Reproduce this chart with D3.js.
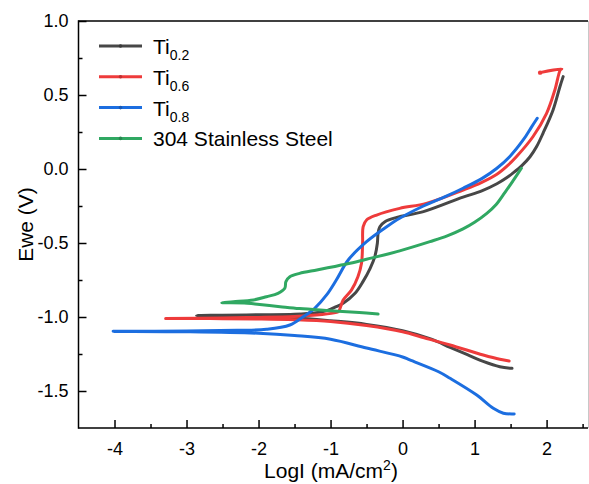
<!DOCTYPE html>
<html>
<head>
<meta charset="utf-8">
<script src="https://cdn.jsdelivr.net/npm/d3@7"></script>
<style>
  html, body { margin: 0; padding: 0; background: #fff; }
  svg { display: block; font-family: Arial, "Liberation Sans", Helvetica, sans-serif; }
</style>
</head>
<body>
<svg id="chart" width="589" height="484"></svg>
<script>
// Potentiodynamic polarization curves: [log I (mA/cm²), Ewe (V)]
// Each curve runs cathodic end -> corrosion potential -> anodic end.
const seriesNames = ["Ti0.2", "Ti0.6", "Ti0.8", "304 Stainless Steel"];

const ti02 = [
  [1.52,-1.347],[1.35,-1.336],[1.12,-1.300],[0.90,-1.255],[0.66,-1.205],[0.40,-1.150],
  [0.00,-1.093],[-0.50,-1.050],[-1.00,-1.025],[-1.50,-1.005],[-2.00,-0.997],[-2.50,-0.992],
  [-2.86,-0.990],
  [-2.50,-0.988],[-2.00,-0.985],[-1.50,-0.982],[-1.20,-0.972],[-1.05,-0.957],[-0.92,-0.930],
  [-0.825,-0.907],[-0.66,-0.840],[-0.55,-0.761],[-0.45,-0.671],[-0.385,-0.592],[-0.35,-0.502],
  [-0.34,-0.434],[-0.315,-0.390],[-0.245,-0.356],[-0.08,-0.327],[0.29,-0.288],[0.84,-0.190],
  [1.10,-0.148],[1.31,-0.100],[1.45,-0.058],[1.54,-0.025],[1.66,0.025],[1.77,0.083],
  [1.86,0.150],[1.95,0.241],[2.09,0.399],[2.185,0.556],[2.23,0.624]
];

const ti06 = [
  [1.48,-1.297],[1.35,-1.286],[1.12,-1.257],[0.66,-1.189],[0.30,-1.140],[0.00,-1.100],
  [-0.50,-1.058],[-1.00,-1.030],[-1.50,-1.018],[-2.00,-1.013],[-2.50,-1.011],[-3.00,-1.010],
  [-3.29,-1.010],
  [-2.50,-1.006],[-2.00,-1.003],[-1.50,-0.997],[-1.20,-0.987],[-0.95,-0.972],[-0.89,-0.964],
  [-0.86,-0.930],[-0.825,-0.885],[-0.71,-0.818],[-0.62,-0.728],[-0.57,-0.637],[-0.555,-0.502],
  [-0.547,-0.390],[-0.50,-0.345],[-0.36,-0.311],[-0.04,-0.266],[0.33,-0.232],[0.84,-0.142],
  [1.10,-0.090],[1.31,-0.035],[1.45,0.020],[1.58,0.083],[1.81,0.218],[2.00,0.376],
  [2.115,0.534],[2.19,0.669],[2.21,0.676],[1.91,0.651]
];

const ti08 = [
  [1.55,-1.655],[1.40,-1.650],[1.26,-1.617],[1.03,-1.527],[0.66,-1.414],[0.50,-1.370],
  [0.10,-1.290],[0.00,-1.270],[-0.50,-1.210],[-1.00,-1.150],[-1.50,-1.125],[-2.00,-1.110],
  [-3.00,-1.100],[-4.02,-1.097],
  [-3.00,-1.095],[-2.30,-1.090],[-1.89,-1.083],[-1.565,-1.054],[-1.38,-0.998],[-1.22,-0.941],
  [-1.055,-0.851],[-0.92,-0.750],[-0.755,-0.615],[-0.50,-0.491],[-0.22,-0.390],[-0.04,-0.333],
  [0.29,-0.250],[0.60,-0.185],[0.84,-0.130],[1.10,-0.065],[1.31,0.005],[1.49,0.085],
  [1.675,0.196],[1.79,0.283],[1.87,0.343]
];

const ss304 = [
  [-0.34,-0.980],[-0.60,-0.970],[-1.00,-0.957],[-1.43,-0.943],[-1.70,-0.930],[-2.05,-0.912],
  [-2.20,-0.905],[-2.51,-0.903],
  [-2.35,-0.897],[-2.07,-0.885],[-1.89,-0.863],[-1.73,-0.840],[-1.635,-0.806],[-1.62,-0.761],
  [-1.565,-0.728],[-1.43,-0.705],[-1.19,-0.682],[-0.96,-0.660],[-0.73,-0.637],[-0.50,-0.610],
  [-0.04,-0.553],[0.38,-0.491],[0.62,-0.452],[0.84,-0.405],[1.00,-0.360],[1.17,-0.300],
  [1.30,-0.240],[1.42,-0.160],[1.54,-0.075],[1.65,0.005]
];

const seriesData = [ti02, ti06, ti08, ss304];
const seriesColors = ["#474747", "#ee3b3b", "#1c6ee0", "#30a862"];

const xTicks = [-4, -3, -2, -1, 0, 1, 2];
const yTicks = [-1.5, -1.0, -0.5, 0.0, 0.5, 1.0];

const svg = d3.select("#chart");
const plotL = 78.5, plotR = 588, plotT = 21, plotB = 428;

const x = d3.scaleLinear().domain([-4.5, 2.575]).range([plotL, plotR]);
const y = d3.scaleLinear().domain([-1.75, 1.0]).range([plotB, plotT]);

// plain hyphen-minus for negative tick labels
const fmt = d3.formatLocale({ decimal: ".", thousands: ",", grouping: [3], currency: ["", ""], minus: "-" });

svg.append("defs").append("clipPath").attr("id", "plotclip")
  .append("rect").attr("x", plotL).attr("y", plotT)
  .attr("width", plotR - plotL).attr("height", plotB - plotT);

// Curves
const line = d3.line()
  .x(d => x(d[0])).y(d => y(d[1]))
  .curve(d3.curveCatmullRom.alpha(0.5));

const curves = svg.append("g").attr("clip-path", "url(#plotclip)");
seriesData.forEach((data, i) => {
  curves.append("path")
    .datum(data)
    .attr("d", line)
    .attr("fill", "none")
    .attr("stroke", seriesColors[i])
    .attr("stroke-width", 3)
    .attr("stroke-linejoin", "round")
    .attr("stroke-linecap", "round");
});
// end marker on the hook of the Ti0.6 curve
curves.append("circle")
  .attr("cx", x(ti06[ti06.length - 1][0])).attr("cy", y(ti06[ti06.length - 1][1]))
  .attr("r", 2.2).attr("fill", seriesColors[1]);

// Axes (ticks point into the plot)
const xAxis = d3.axisBottom(x).tickValues(xTicks).tickFormat(fmt.format("d"))
  .tickSizeInner(-8).tickSizeOuter(0).tickPadding(14);
const xMinor = d3.axisBottom(x).tickValues(d3.range(-3.5, 2.6, 1))
  .tickSizeInner(-4).tickSizeOuter(0).tickFormat("");
const yAxis = d3.axisLeft(y).tickValues(yTicks).tickFormat(fmt.format(".1f"))
  .tickSizeInner(-8).tickSizeOuter(0).tickPadding(10);
const yMinor = d3.axisLeft(y).tickValues([-1.25, -0.75, -0.25, 0.25, 0.75])
  .tickSizeInner(-4).tickSizeOuter(0).tickFormat("");

function styleAxis(g) {
  g.select(".domain").remove();
  g.selectAll(".tick line").attr("stroke", "#000").attr("stroke-width", 1.5);
  g.selectAll(".tick text").attr("fill", "#000").style("font-size", "18px")
    .style("font-family", "Arial, 'Liberation Sans', sans-serif");
}

svg.append("g").attr("transform", `translate(0,${plotB})`).call(xAxis).call(styleAxis);
svg.append("g").attr("transform", `translate(0,${plotB})`).call(xMinor).call(styleAxis);
svg.append("g").attr("transform", `translate(${plotL},0)`).call(yAxis).call(styleAxis);
svg.append("g").attr("transform", `translate(${plotL},0)`).call(yMinor).call(styleAxis);

// Frame
svg.append("line").attr("x1", plotL).attr("x2", plotL).attr("y1", plotT - 0.75).attr("y2", plotB + 0.75)
  .attr("stroke", "#000").attr("stroke-width", 1.5);
svg.append("line").attr("x1", plotL).attr("x2", plotR).attr("y1", plotB).attr("y2", plotB)
  .attr("stroke", "#000").attr("stroke-width", 1.5);
svg.append("line").attr("x1", plotL).attr("x2", plotR).attr("y1", plotT).attr("y2", plotT)
  .attr("stroke", "#000").attr("stroke-width", 1.5);
svg.append("line").attr("x1", plotR + 0.5).attr("x2", plotR + 0.5).attr("y1", plotT).attr("y2", plotB)
  .attr("stroke", "#c8c8c8").attr("stroke-width", 1);

// Axis titles
svg.append("text")
  .attr("transform", `translate(33,${(plotT + plotB) / 2}) rotate(-90)`)
  .attr("text-anchor", "middle")
  .style("font-size", "21px")
  .text("Ewe (V)");

const xt = svg.append("text")
  .attr("x", 331).attr("y", 478)
  .attr("text-anchor", "middle")
  .style("font-size", "21px");
xt.append("tspan").text("LogI (mA/cm");
xt.append("tspan").attr("dy", -8).style("font-size", "14px").text("2");
xt.append("tspan").attr("dy", 8).text(")");

// Legend
const legendLabels = [
  { main: "Ti", sub: "0.2" },
  { main: "Ti", sub: "0.6" },
  { main: "Ti", sub: "0.8" },
  { main: "304 Stainless Steel", sub: null }
];
const legend = svg.append("g");
legendLabels.forEach((lab, i) => {
  const ly = 46 + i * 30.8;
  legend.append("line").attr("x1", 99).attr("x2", 142).attr("y1", ly).attr("y2", ly)
    .attr("stroke", seriesColors[i]).attr("stroke-width", 3);
  legend.append("circle").attr("cx", 120.5).attr("cy", ly).attr("r", 1.8)
    .attr("fill", d3.color(seriesColors[i]).darker(0.6));
  const t = legend.append("text").attr("x", 153).attr("y", ly + 8)
    .style("font-size", "21px").text(lab.main);
  if (lab.sub) {
    t.append("tspan").attr("dy", 6).style("font-size", "14px").text(lab.sub);
  }
});
</script>
</body>
</html>
